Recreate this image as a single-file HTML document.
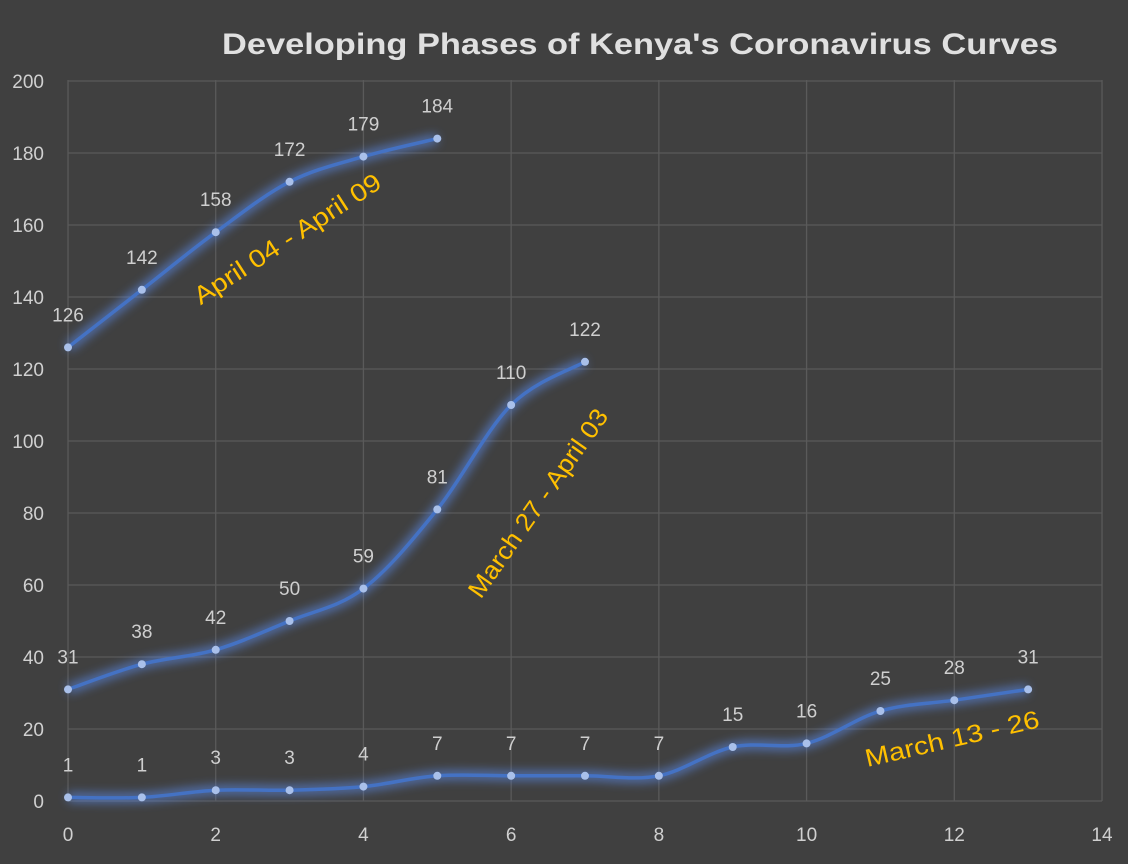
<!DOCTYPE html>
<html><head><meta charset="utf-8"><style>
html,body{margin:0;padding:0;background:#404040;}
svg{display:block;font-family:"Liberation Sans",sans-serif;}
</style></head><body>
<svg id="chart" width="1128" height="864" viewBox="0 0 1128 864" xmlns="http://www.w3.org/2000/svg">
<defs>
<filter id="glow" x="-20%" y="-20%" width="140%" height="140%"><feGaussianBlur stdDeviation="5"/></filter>
</defs>
<rect width="1128" height="864" fill="#404040"/>
<text x="640" y="54" text-anchor="middle" font-size="30" font-weight="bold" fill="#e0e0e0" textLength="836" lengthAdjust="spacingAndGlyphs">Developing Phases of Kenya's Coronavirus Curves</text>
<g id="grid"></g><g id="axes"></g><g id="series"></g><g id="labels"></g>
<text transform="translate(292,246) rotate(-33)" text-anchor="middle" font-size="25" fill="#ffc000" textLength="218" lengthAdjust="spacingAndGlyphs">April 04 - April 09</text>
<text transform="translate(545,508) rotate(-55)" text-anchor="middle" font-size="25" fill="#ffc000" textLength="224" lengthAdjust="spacingAndGlyphs">March 27 - April 03</text>
<text transform="translate(954,747) rotate(-13)" text-anchor="middle" font-size="25" fill="#ffc000" textLength="178" lengthAdjust="spacingAndGlyphs">March 13 - 26</text>
</svg>
<script>
const xTicks=[0,2,4,6,8,10,12,14];
const yTicks=[0,20,40,60,80,100,120,140,160,180,200];
const seriesA=[126,142,158,172,179,184];
const seriesB=[31,38,42,50,59,81,110,122];
const seriesC=[1,1,3,3,4,7,7,7,7,15,16,25,28,31];
const NS="http://www.w3.org/2000/svg";
const xs=v=>68+v*(1102-68)/14;
const ys=v=>801-v*(720/200);
function mk(tag,attrs,parent){const e=document.createElementNS(NS,tag);for(const k in attrs)e.setAttribute(k,attrs[k]);parent.appendChild(e);return e;}
const grid=document.getElementById('grid'),axes=document.getElementById('axes'),ser=document.getElementById('series'),lab=document.getElementById('labels');
yTicks.forEach(t=>{
 const l=mk('line',{x1:68,x2:1102,y1:ys(t),y2:ys(t),stroke:'#5a5a5a','stroke-width':1.3},grid);
 
 
 const tx=mk('text',{x:44,y:ys(t)+7,'text-anchor':'end','font-size':19,fill:'#d0d0d0'},axes);tx.textContent=t;
 
 
});
xTicks.forEach(t=>{
 const l=mk('line',{x1:xs(t),x2:xs(t),y1:80,y2:801,stroke:'#5a5a5a','stroke-width':1.3},grid);
 
 
 const tx=mk('text',{x:xs(t),y:841,'text-anchor':'middle','font-size':19,fill:'#d0d0d0'},axes);tx.textContent=t;
 
 
});
function pathFor(vals){
 const p=vals.map((v,i)=>[xs(i),ys(v)]);
 let d='M'+p[0][0]+','+p[0][1];
 for(let i=0;i<p.length-1;i++){
  const p0=p[i-1]||p[i],p1=p[i],p2=p[i+1],p3=p[i+2]||p2;
  const c1=[p1[0]+(p2[0]-p0[0])/6,p1[1]+(p2[1]-p0[1])/6];
  const c2=[p2[0]-(p3[0]-p1[0])/6,p2[1]-(p3[1]-p1[1])/6];
  d+=' C'+c1+' '+c2+' '+p2;
 }
 return d;
}
[[seriesA,'series-april-04-09'],[seriesB,'series-march27-april03'],[seriesC,'series-march-13-26']].forEach(([vals,name])=>{
 const g=mk('g',{},ser);
 
 
 const d=pathFor(vals);
 mk('path',{d:d,fill:'none',stroke:'#5b8ae8','stroke-width':9,opacity:0.7,filter:'url(#glow)'},g);
 const ln=mk('path',{d:d,fill:'none',stroke:'#4472c4','stroke-width':3.5},g);
 
 
 vals.forEach((v,i)=>{
  const c=mk('circle',{cx:xs(i),cy:ys(v),r:4,fill:'#a9c0ea'},g);
  
  
  const t=mk('text',{x:xs(i),y:ys(v)-26,'text-anchor':'middle','font-size':19,fill:'#cfcfcf'},lab);t.textContent=v;
  
  
 });
});
</script>
</body></html>
